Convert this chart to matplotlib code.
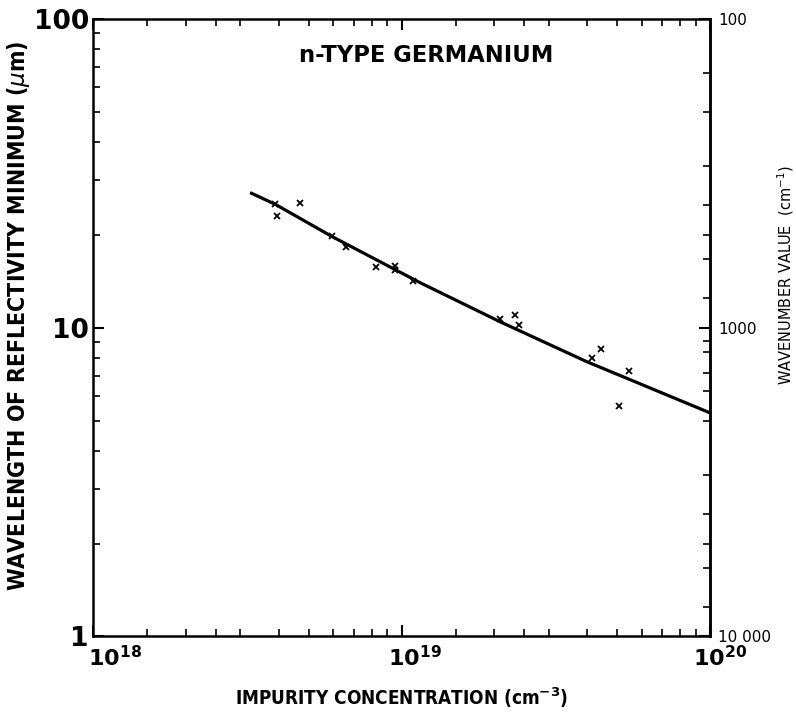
import matplotlib
matplotlib.use("Agg")
import matplotlib.pyplot as plt
from matplotlib.ticker import LogLocator, NullFormatter
from matplotlib.transforms import ScaledTranslation
import numpy as np

# measured points (impurity concentration cm^-3, wavelength of reflectivity minimum um)
conc_pts = [3.89e18, 3.95e18, 4.69e18, 5.94e18, 6.61e18, 8.27e18, 9.55e18, 9.55e18,
            1.087e19, 2.09e19, 2.33e19, 2.40e19, 4.15e19, 4.44e19, 5.45e19, 5.08e19]
wl_pts = [25.1, 23.0, 25.3, 19.8, 18.3, 15.7, 15.9, 15.4,
          14.2, 10.7, 11.0, 10.2, 7.98, 8.54, 7.23, 5.58]

# theory curve
conc_curve = [3.23e18, 3.9e18, 5.95e18, 1.148e19, 2.085e19, 3.99e19, 1.0e20]
wl_curve = [27.4, 25.1, 19.75, 14.0, 10.46, 7.76, 5.3]

x_ticks = [1e18, 1e19, 1e20]
x_ticklabels = [r"$\mathbf{10^{18}}$", r"$\mathbf{10^{19}}$", r"$\mathbf{10^{20}}$"]
y_ticks = [1, 10, 100]
y_ticklabels = ["1", "10", "100"]
wn_ticks = [100, 1000, 10000]
wn_ticklabels = ["100", "1000", "10 000"]
wn_minor = [150, 200, 300, 400, 500, 600, 800, 1100, 1200, 1400, 1600, 2000,
            3000, 4000, 5000, 6000, 8000]

plt.rcParams['font.family'] = ['DejaVu Sans']
plt.rcParams['mathtext.fontset'] = 'dejavusans'

fig = plt.figure(figsize=(7.96, 7.17), dpi=100)
ax = fig.add_axes([0.1168, 0.1123, 0.892 - 0.1168, 0.9735 - 0.1123])

ax.plot(conc_curve, wl_curve, color='black', linewidth=2.3, solid_capstyle='butt')
ax.plot(conc_pts, wl_pts, linestyle='none', marker='x', markersize=4,
        markeredgewidth=1.3, color='black')

ax.set_xscale('log')
ax.set_yscale('log')
ax.set_xlim(1e18, 1e20)
ax.set_ylim(1, 100)

for sp in ax.spines.values():
    sp.set_linewidth(1.8)

ax.set_xticks(x_ticks)
ax.set_xticklabels(x_ticklabels, fontsize=16)
ax.xaxis.set_minor_locator(LogLocator(base=10, subs=[1.5, 2, 2.5, 3, 4, 5, 6, 7, 8, 9]))
ax.xaxis.set_minor_formatter(NullFormatter())
ax.set_yticks(y_ticks)
ax.set_yticklabels(y_ticklabels, fontsize=19, fontweight='bold')
ax.yaxis.set_minor_locator(LogLocator(base=10, subs=np.arange(2, 10)))
ax.yaxis.set_minor_formatter(NullFormatter())

ax.tick_params(which='major', direction='in', length=8, width=1.5,
               top=True, right=False)
ax.tick_params(which='minor', direction='in', length=5, width=1.2,
               top=True, right=False)
ax.tick_params(axis='x', which='major', pad=6)
ax.tick_params(axis='y', which='major', pad=3)

# the exponent labels sit a bit right of their ticks in the original
for lab, dx in zip(ax.get_xticklabels(), [22, 13, 10]):
    lab.set_transform(lab.get_transform() + ScaledTranslation(dx / 100, 0, fig.dpi_scale_trans))

# wavenumber scale on the right
sec = ax.secondary_yaxis('right', functions=(lambda w: 1e4 / w, lambda k: 1e4 / k))
sec.set_yticks(wn_ticks)
sec.set_yticklabels(wn_ticklabels, fontsize=11)
sec.set_yticks(wn_minor, minor=True)
sec.yaxis.set_minor_formatter(NullFormatter())
sec.tick_params(which='major', direction='in', length=8, width=1.5, pad=6)
sec.tick_params(which='minor', direction='in', length=5, width=1.2)
sec.spines['right'].set_linewidth(1.8)
sec.set_ylabel(r"WAVENUMBER VALUE  (cm$^{-1}$)", fontsize=10.5, labelpad=3,
               y=0.585)

ax.set_xlabel(r"IMPURITY CONCENTRATION (cm$^{\mathbf{-3}}$)", fontsize=13.6,
              fontweight='bold', fontstretch='condensed', labelpad=11)
ax.set_ylabel(r"WAVELENGTH OF REFLECTIVITY MINIMUM ($\mu$m)", fontsize=16.6,
              fontweight='bold', fontstretch='condensed', labelpad=1, y=0.52)

ax.text(0.54, 0.941, "n-TYPE GERMANIUM", transform=ax.transAxes, ha='center',
        va='center', fontsize=16.3, fontweight='bold')

fig.savefig("out.png", dpi=100)
